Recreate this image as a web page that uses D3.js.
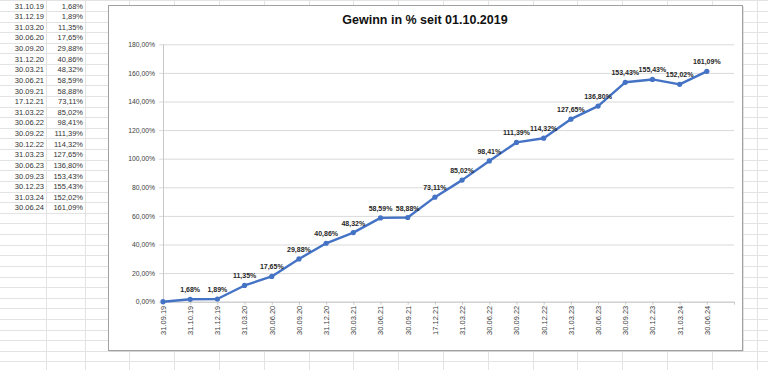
<!DOCTYPE html>
<html>
<head>
<meta charset="utf-8">
<script src="https://cdn.jsdelivr.net/npm/d3@7"></script>
<style>
  body { margin: 0; background: #fff; }
  svg { display: block; font-family: "Liberation Sans", Arial, sans-serif; }
</style>
</head>
<body>
<div id="chart"></div>
<script>
var dates = ["31.09.19","31.10.19","31.12.19","31.03.20","30.06.20","30.09.20","31.12.20","30.03.21","30.06.21","30.09.21","17.12.21","31.03.22","30.06.22","30.09.22","30.12.22","31.03.23","30.06.23","30.09.23","30.12.23","31.03.24","30.06.24"];
var gains = [0, 1.68, 1.89, 11.35, 17.65, 29.88, 40.86, 48.32, 58.59, 58.88, 73.11, 85.02, 98.41, 111.39, 114.32, 127.65, 136.80, 153.43, 155.43, 152.02, 161.09];
var yTicks = [0, 20, 40, 60, 80, 100, 120, 140, 160, 180];
var title = "Gewinn in % seit 01.10.2019";

var W = 768, H = 370;
var de = d3.formatLocale({ decimal: ",", thousands: ".", grouping: [3], currency: ["", "€"] });
var pct = function(v) { return de.format(".2f")(v) + "%"; };

var svg = d3.select("#chart").append("svg")
    .attr("width", W)
    .attr("height", H);

// spreadsheet background grid
var rowH = 10.62, row0 = 0.4;
var colLines = [46, 85, 129, 174, 219, 264, 309, 353, 398, 443, 488, 533, 577, 622, 667, 712, 757];
var sheet = svg.append("g").attr("class", "sheet");
sheet.selectAll(".hrow")
    .data(d3.range(0, 36))
    .enter().append("line")
    .attr("x1", 0).attr("x2", W)
    .attr("y1", function(k) { return Math.round(row0 + k * rowH) + 0.5; })
    .attr("y2", function(k) { return Math.round(row0 + k * rowH) + 0.5; })
    .attr("stroke", "#e3e3e3");
sheet.selectAll(".vcol")
    .data(colLines)
    .enter().append("line")
    .attr("x1", function(d) { return d + 0.5; })
    .attr("x2", function(d) { return d + 0.5; })
    .attr("y1", 0).attr("y2", H)
    .attr("stroke", "#e3e3e3");

// the table (first row scrolled out of view)
var rows = d3.range(1, dates.length);
sheet.selectAll(".cdate")
    .data(rows)
    .enter().append("text")
    .attr("x", 44)
    .attr("y", function(i, k) { return row0 + k * rowH + 8.2; })
    .attr("text-anchor", "end")
    .attr("font-size", "7.5px")
    .attr("fill", "#333")
    .text(function(i) { return dates[i]; });
sheet.selectAll(".cval")
    .data(rows)
    .enter().append("text")
    .attr("x", 83)
    .attr("y", function(i, k) { return row0 + k * rowH + 8.2; })
    .attr("text-anchor", "end")
    .attr("font-size", "7.5px")
    .attr("fill", "#333")
    .text(function(i) { return pct(gains[i]); });

// chart box
var box = { x: 108, y: 5, w: 634, h: 345 };
svg.append("rect")
    .attr("x", box.x + 1.5).attr("y", box.y + 1.5)
    .attr("width", box.w).attr("height", box.h)
    .attr("fill", "#c8c8c8");
svg.append("rect")
    .attr("x", box.x + 0.5).attr("y", box.y + 0.5)
    .attr("width", box.w).attr("height", box.h)
    .attr("fill", "#fff")
    .attr("stroke", "#a0a0a0");

svg.append("text")
    .attr("x", box.x + box.w / 2)
    .attr("y", 23.5)
    .attr("text-anchor", "middle")
    .attr("font-size", "12.5px")
    .attr("font-weight", "bold")
    .attr("fill", "#111")
    .text(title);

// plot area
var plot = { left: 163, right: 734, top: 44.3, bottom: 301.7 };
var n = dates.length;

var x = d3.scaleLinear()
    .domain([0, n])
    .range([plot.left, plot.right]);

var y = d3.scaleLinear()
    .domain([0, 180])
    .range([plot.bottom, plot.top]);

var g = svg.append("g");

// gridlines + y labels
var yAxis = d3.axisLeft(y)
    .tickValues(yTicks)
    .tickSize(-(plot.right - plot.left))
    .tickPadding(8)
    .tickFormat(pct);
g.append("g")
    .attr("class", "y-axis")
    .attr("transform", "translate(" + plot.left + ",0)")
    .call(yAxis)
    .call(function(s) {
        s.select(".domain").remove();
        s.selectAll(".tick line").attr("stroke", "#d9d9d9").attr("x1", -4);
        s.selectAll(".tick text")
            .attr("font-size", "6.8px")
            .attr("font-family", "Liberation Sans, Arial, sans-serif")
            .attr("fill", "#404040");
    });

// y axis line
g.append("line")
    .attr("x1", plot.left + 0.5).attr("x2", plot.left + 0.5)
    .attr("y1", plot.top).attr("y2", plot.bottom)
    .attr("stroke", "#c8c8c8");

// x axis
var xAxis = d3.axisBottom(x)
    .tickValues(d3.range(n + 1))
    .tickSize(3)
    .tickSizeOuter(0)
    .tickFormat(function(i) { return dates[i] || ""; });
g.append("g")
    .attr("class", "x-axis")
    .attr("transform", "translate(0," + plot.bottom + ")")
    .call(xAxis)
    .call(function(s) {
        s.select(".domain").attr("stroke", "#c8c8c8");
        s.selectAll(".tick line").attr("stroke", "#c8c8c8");
        s.selectAll(".tick text")
            .attr("font-size", "7.5px")
            .attr("font-family", "Liberation Sans, Arial, sans-serif")
            .attr("fill", "#404040")
            .attr("transform", "rotate(-90)")
            .attr("text-anchor", "end")
            .attr("x", -4)
            .attr("y", 0)
            .attr("dy", "0.32em");
    });

// line + markers
var line = d3.line()
    .x(function(d, i) { return x(i); })
    .y(function(d) { return y(d); });

g.append("path")
    .datum(gains)
    .attr("d", line)
    .attr("fill", "none")
    .attr("stroke", "#4472c4")
    .attr("stroke-width", 2.4)
    .attr("stroke-linejoin", "round");

g.selectAll(".dot")
    .data(gains)
    .enter().append("circle")
    .attr("class", "dot")
    .attr("cx", function(d, i) { return x(i); })
    .attr("cy", function(d) { return y(d); })
    .attr("r", 2.6)
    .attr("fill", "#4472c4");

// data labels (no label on the starting zero)
g.selectAll(".lbl")
    .data(gains)
    .enter().append("text")
    .attr("class", "lbl")
    .attr("x", function(d, i) { return x(i); })
    .attr("y", function(d) { return y(d) - 7; })
    .attr("text-anchor", "middle")
    .attr("font-size", "7px")
    .attr("font-weight", "bold")
    .attr("fill", "#262626")
    .text(function(d, i) { return i > 0 ? pct(d) : ""; });
</script>
</body>
</html>
